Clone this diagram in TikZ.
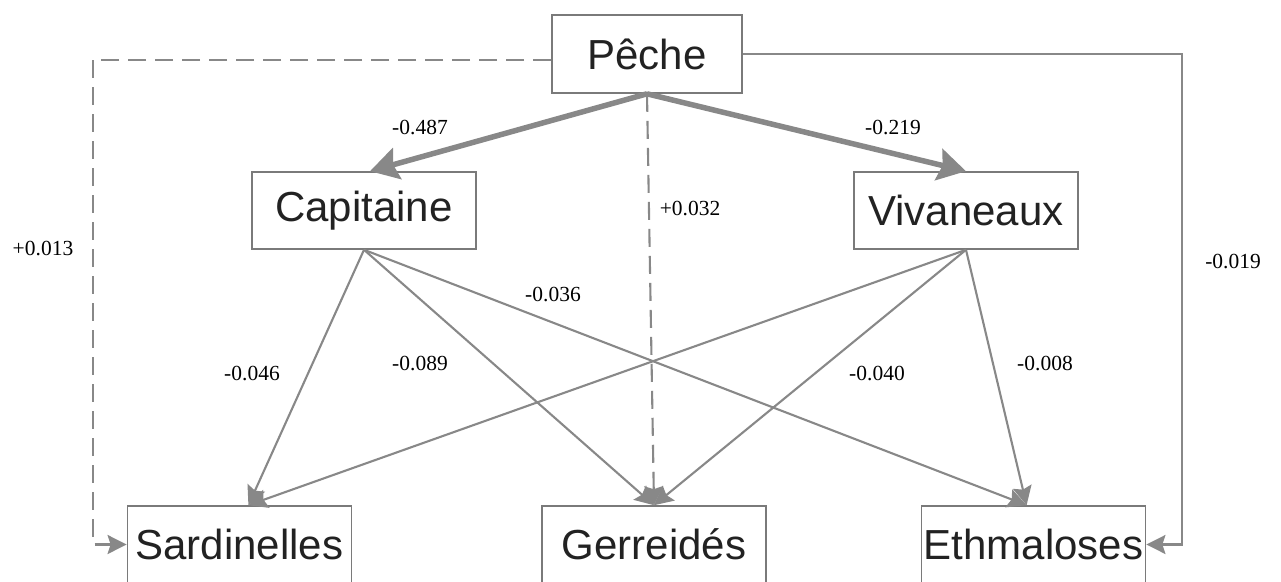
\documentclass[tikz,border=0pt]{standalone}
\usepackage{fontspec}
\setmainfont{Liberation Serif}
\newfontfamily\boxfont{Liberation Sans}
\usetikzlibrary{arrows.meta,positioning}
\definecolor{linegray}{HTML}{888888}
\definecolor{boxgray}{HTML}{7A7A7A}
\definecolor{txtdark}{HTML}{222222}

\begin{document}
\begin{tikzpicture}[x=1pt,y=-1pt]
\tikzstyle{main}=[rectangle, draw=boxgray, line width=1.6pt, fill=white, minimum width=224pt, minimum height=77pt, inner sep=0pt, text=txtdark, font=\boxfont\fontsize{42}{48}\selectfont]
\tikzstyle{connect}=[-{Stealth[length=19pt,width=19pt,inset=3pt]}, draw=linegray, line width=2.1pt]
\tikzstyle{heavy}=[-{Stealth[length=28pt,width=32pt,inset=4pt]}, draw=linegray, line width=5.5pt]
\tikzstyle{dashconn}=[connect, dash pattern=on 18pt off 9pt]
\tikzstyle{coef}=[font=\fontsize{21.5}{24}\selectfont, text=black, inner sep=1pt]
\useasboundingbox (0,0) rectangle (1281,581);
  % top row
  \node[main, minimum width=190pt, minimum height=78pt] (pec) at (647,54) {Pêche};
  \node[main] (cap) at (364,210.5) {Capitaine};
  \node[main] (viv) at (966,210.5) {Vivaneaux};
  % bottom row
  \node[main] (ger) at (654,544.5) {Gerreidés};
  \node[main] (sar) [left=189pt of ger] {Sardinelles};
  \node[main] (eth) [right=154pt of ger] {Ethmaloses};
  \path (pec.south) edge [heavy] ([xshift=6pt]cap.north)
        (pec.south) edge [heavy] (viv.north)
        (pec.south) edge [dashconn] (ger.north);
  \draw[dashconn] ([yshift=-6pt]pec.west) -| ([xshift=-34pt]sar.west) -- (sar.west);
  \draw[connect] (pec.east) -| ([xshift=36pt]eth.east) -- (eth.east);
  \path (cap.south) edge [connect] ([xshift=9pt]sar.north)
        (cap.south) edge [connect] (ger.north)
        (cap.south) edge [connect] ([xshift=-7pt]eth.north)
        (viv.south) edge [connect] ([xshift=9pt]sar.north)
        (viv.south) edge [connect] (ger.north)
        (viv.south) edge [connect] ([xshift=-7pt]eth.north);
  % coefficients
  \node[coef] (k487) at (420,128) {-0.487};
  \node[coef] (k219) at (893,128) {-0.219};
  \node[coef] (k032) at (690,208) {+0.032};
  \node[coef] (k013) at (43,248) {+0.013};
  \node[coef] (k019) at (1233,261) {-0.019};
  \node[coef] (k036) at (553,294) {-0.036};
  \node[coef] (k046) at (252,373) {-0.046};
  \node[coef] (k089) at (420,363) {-0.089};
  \node[coef] (k040) at (877,373) {-0.040};
  \node[coef] (k008) at (1045,363) {-0.008};
\end{tikzpicture}
\end{document}
